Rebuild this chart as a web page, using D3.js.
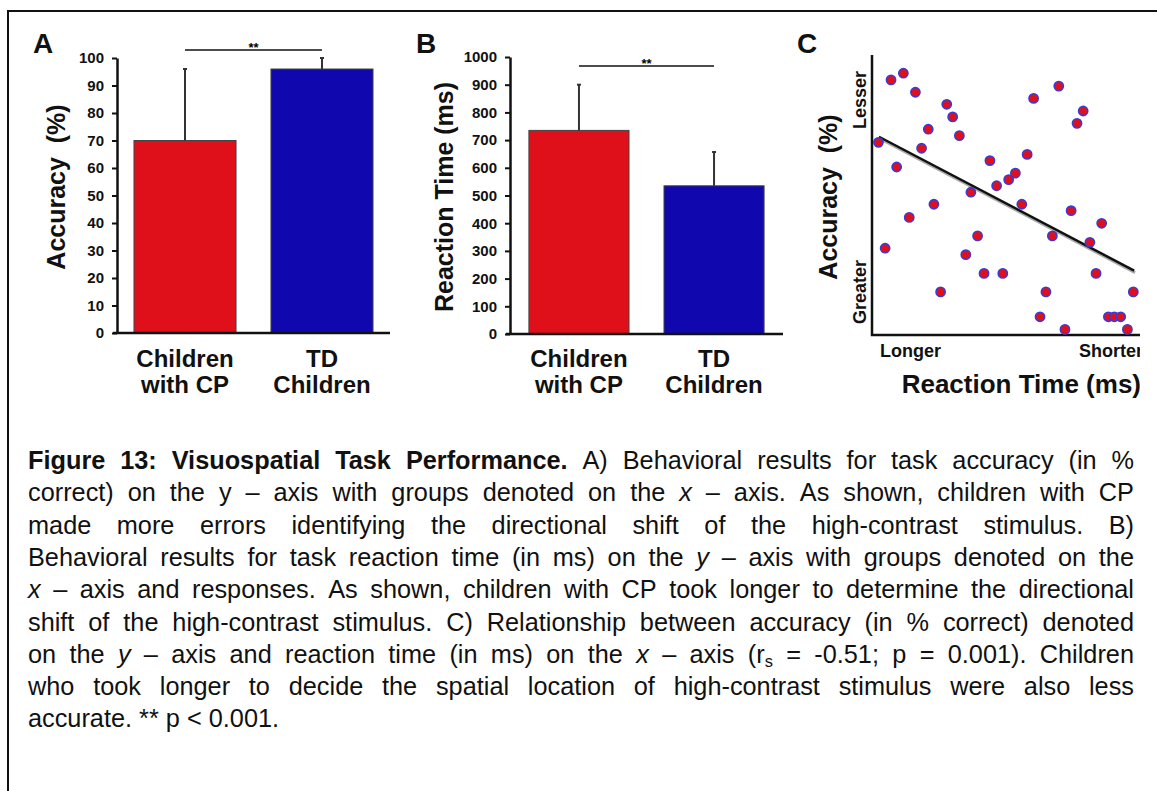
<!DOCTYPE html>
<html>
<head>
<meta charset="utf-8">
<script src="https://cdn.jsdelivr.net/npm/d3@7"></script>
<style>
  body { margin: 0; background: #fff; }
  svg { display: block; font-family: Arial, "Liberation Sans", sans-serif; }
</style>
</head>
<body>
<svg id="figura" width="1157" height="791"></svg>
<script>
// dados ------------------------------------------------
const grupos = ["Children with CP", "TD Children"];
const rotulosGrupo = [["Children", "with CP"], ["TD", "Children"]];
const cores = ["#e0101a", "#1008ae"];

const acuraciaMedia = [70, 96];
const acuraciaErro = [26, 4];
const acuraciaTicks = [0, 10, 20, 30, 40, 50, 60, 70, 80, 90, 100];

const tempoMedia = [735, 535];
const tempoErro = [165, 122];
const tempoTicks = [0, 100, 200, 300, 400, 500, 600, 700, 800, 900, 1000];

// painel C: posicoes relativas (0-100)
const dispX = [2.4, 7.1, 11.7, 16.2, 21.0, 18.5, 9.2, 4.9, 13.9, 23.1, 25.6, 27.9, 30.1, 32.6,
  36.9, 35.0, 39.4, 41.8, 48.8, 44.0, 46.5, 51.0, 53.5, 55.9, 57.9, 60.3, 69.7, 62.7, 64.9,
  67.3, 72.0, 74.3, 76.5, 78.8, 81.3, 83.6, 85.7, 88.2, 90.4, 92.8, 95.3, 97.5];
const dispY = [68.8, 91.1, 93.5, 86.7, 73.5, 66.7, 60.0, 31.0, 42.0, 46.7, 15.4, 82.4, 77.9, 71.2,
  51.0, 28.7, 35.4, 22.0, 22.0, 62.3, 53.3, 55.5, 57.8, 46.7, 64.5, 84.5, 88.9, 6.5, 15.4,
  35.4, 2.0, 44.4, 75.6, 80.0, 33.1, 22.0, 39.9, 6.5, 6.5, 6.5, 2.0, 15.4];
const tendenciaX = [2.6, 97.8];
const tendenciaY = [70.8, 23.0];

const legenda = [
  "b:Figure b:13: b:Visuospatial b:Task b:Performance. A) Behavioral results for task accuracy (in %",
  "correct) on the y – axis with groups denoted on the i:x – axis. As shown, children with CP",
  "made more errors identifying the directional shift of the high-contrast stimulus. B)",
  "Behavioral results for task reaction time (in ms) on the i:y – axis with groups denoted on the",
  "i:x – axis and responses. As shown, children with CP took longer to determine the directional",
  "shift of the high-contrast stimulus. C) Relationship between accuracy (in % correct) denoted",
  "on the i:y – axis and reaction time (in ms) on the i:x – axis (r_s = -0.51; p = 0.001). Children",
  "who took longer to decide the spatial location of high-contrast stimulus were also less",
  "accurate. ** p < 0.001."
];

const svg = d3.select("#figura");

// moldura (apenas topo e esquerda visiveis)
svg.append("path")
  .attr("d", "M8,791 V11 H1157")
  .attr("fill", "none").attr("stroke", "#111").attr("stroke-width", 2);

// grafico de barras generico ------------------------------------------------
function barras(cfg) {
  const g = svg.append("g");
  const x = d3.scaleBand().domain(grupos).range([cfg.x0, cfg.x1])
    .paddingInner(cfg.pIn).paddingOuter(cfg.pOut);
  const y = d3.scaleLinear().domain([0, cfg.max]).range([cfg.yBase, cfg.yTop]);

  // barras
  g.selectAll(".barra").data(cfg.media).join("rect")
    .attr("x", (d, i) => x(grupos[i]))
    .attr("y", d => y(d))
    .attr("width", x.bandwidth())
    .attr("height", d => cfg.yBase - y(d))
    .attr("fill", (d, i) => cores[i])
    .attr("stroke", "#444").attr("stroke-width", 1);

  // barras de erro
  g.selectAll(".erro").data(cfg.media).join("line")
    .attr("x1", (d, i) => x(grupos[i]) + x.bandwidth() / 2)
    .attr("x2", (d, i) => x(grupos[i]) + x.bandwidth() / 2)
    .attr("y1", d => y(d))
    .attr("y2", (d, i) => y(d + cfg.erro[i]))
    .attr("stroke", "#333").attr("stroke-width", 2);
  g.selectAll(".cap").data(cfg.media).join("line")
    .attr("x1", (d, i) => x(grupos[i]) + x.bandwidth() / 2 - 2)
    .attr("x2", (d, i) => x(grupos[i]) + x.bandwidth() / 2 + 2)
    .attr("y1", (d, i) => y(d + cfg.erro[i]))
    .attr("y2", (d, i) => y(d + cfg.erro[i]))
    .attr("stroke", "#333").attr("stroke-width", 2);

  // eixo Y
  const eixoY = g.append("g")
    .attr("transform", `translate(${cfg.x0},0)`)
    .call(d3.axisLeft(y).tickValues(cfg.ticks).tickFormat(d3.format("d"))
      .tickSize(5).tickPadding(8).tickSizeOuter(0));
  eixoY.select(".domain").attr("stroke", "#111").attr("stroke-width", 2.5);
  eixoY.selectAll(".tick line").attr("stroke", "#111").attr("stroke-width", 2);
  eixoY.selectAll("text").attr("font-size", 15).attr("font-weight", "bold")
    .attr("fill", "#111").attr("font-family", "Arial, 'Liberation Sans', sans-serif");

  // eixo X
  g.append("line")
    .attr("x1", cfg.x0 - 4).attr("x2", cfg.x1)
    .attr("y1", cfg.yBase).attr("y2", cfg.yBase)
    .attr("stroke", "#111").attr("stroke-width", 2.5);

  // rotulos das categorias
  grupos.forEach((gr, i) => {
    const t = g.append("text")
      .attr("x", x(gr) + x.bandwidth() / 2)
      .attr("text-anchor", "middle")
      .attr("font-size", 24).attr("font-weight", "bold").attr("fill", "#111");
    rotulosGrupo[i].forEach((l, j) => {
      t.append("tspan").attr("x", x(gr) + x.bandwidth() / 2)
        .attr("y", 367 + j * 26).text(l);
    });
  });

  // titulo do eixo Y
  g.append("text")
    .attr("transform", `translate(${cfg.tituloX},${cfg.tituloY}) rotate(-90)`)
    .attr("text-anchor", "middle")
    .attr("font-size", 25).attr("font-weight", "bold").attr("fill", "#111")
    .attr("xml:space", "preserve")
    .text(cfg.titulo);

  // significancia
  const c0 = x(grupos[0]) + x.bandwidth() / 2, c1 = x(grupos[1]) + x.bandwidth() / 2;
  g.append("line").attr("x1", c0).attr("x2", c1)
    .attr("y1", cfg.sigY).attr("y2", cfg.sigY)
    .attr("stroke", "#111").attr("stroke-width", 1.5);
  g.append("text").attr("x", (c0 + c1) / 2).attr("y", cfg.sigY + 2)
    .attr("text-anchor", "middle").attr("font-size", 13).attr("font-weight", "bold")
    .text("**");

  // letra do painel
  g.append("text").attr("x", cfg.letraX).attr("y", 53)
    .attr("font-size", 28).attr("font-weight", "bold").attr("fill", "#111")
    .text(cfg.letra);
}

barras({
  letra: "A", letraX: 33,
  x0: 117, x1: 390, pIn: 0.255, pOut: 0.124,
  yBase: 333, yTop: 58, max: 100,
  media: acuraciaMedia, erro: acuraciaErro, ticks: acuraciaTicks,
  titulo: "Accuracy  (%)", tituloX: 65, tituloY: 187, sigY: 50
});

barras({
  letra: "B", letraX: 416,
  x0: 510, x1: 783, pIn: 0.259, pOut: 0.14,
  yBase: 334, yTop: 57, max: 1000,
  media: tempoMedia, erro: tempoErro, ticks: tempoTicks,
  titulo: "Reaction Time (ms)", tituloX: 453, tituloY: 197, sigY: 66
});

// painel C: dispersao ------------------------------------------------
const gC = svg.append("g");
svg.append("clipPath").attr("id", "corteC")
  .append("rect").attr("x", 780).attr("y", 0).attr("width", 360).attr("height", 420);
const cx = d3.scaleLinear().domain([0, 100]).range([872, 1140]);
const cy = d3.scaleLinear().domain([0, 100]).range([335, 55]);

gC.append("path")
  .attr("d", `M${cx(0)},${cy(100)} V${cy(0)} H${cx(100)}`)
  .attr("fill", "none").attr("stroke", "#111").attr("stroke-width", 2.5);

const tendencia = d3.line().x(d => cx(d[0])).y(d => cy(d[1]));
const ptsT = d3.zip(tendenciaX, tendenciaY);
gC.append("path").attr("d", tendencia(ptsT))
  .attr("transform", "translate(1,2)")
  .attr("stroke", "#aaa").attr("stroke-width", 3).attr("fill", "none");
gC.append("path").attr("d", tendencia(ptsT))
  .attr("stroke", "#111").attr("stroke-width", 2.5).attr("fill", "none");

gC.selectAll(".ponto").data(d3.zip(dispX, dispY)).join("circle")
  .attr("cx", d => cx(d[0])).attr("cy", d => cy(d[1]))
  .attr("r", 4.6)
  .attr("fill", "#e0101a").attr("stroke", "#3a3ad8").attr("stroke-width", 1.6);

gC.append("text").attr("x", 797).attr("y", 53)
  .attr("font-size", 28).attr("font-weight", "bold").attr("fill", "#111").text("C");

gC.append("text")
  .attr("transform", "translate(866,100) rotate(-90)")
  .attr("text-anchor", "middle").attr("font-size", 18).attr("font-weight", "bold")
  .attr("fill", "#111").text("Lesser");
gC.append("text")
  .attr("transform", "translate(866,292) rotate(-90)")
  .attr("text-anchor", "middle").attr("font-size", 18).attr("font-weight", "bold")
  .attr("fill", "#111").text("Greater");
gC.append("text")
  .attr("transform", "translate(837,197) rotate(-90)")
  .attr("text-anchor", "middle").attr("font-size", 25).attr("font-weight", "bold")
  .attr("fill", "#111").attr("xml:space", "preserve").text("Accuracy  (%)");

const rotX = gC.append("g").attr("clip-path", "url(#corteC)");
rotX.append("text").attr("x", 880).attr("y", 357)
  .attr("font-size", 18).attr("font-weight", "bold").attr("fill", "#111").text("Longer");
rotX.append("text").attr("x", 1079).attr("y", 357)
  .attr("font-size", 18).attr("font-weight", "bold").attr("fill", "#111").text("Shorter");
rotX.append("text").attr("x", 1141).attr("y", 393).attr("text-anchor", "end")
  .attr("font-size", 26).attr("font-weight", "bold").attr("fill", "#111").text("Reaction Time (ms)");

// legenda justificada ------------------------------------------------
const tamL = 25.3;
const gL = svg.append("g").attr("font-size", tamL).attr("fill", "#111");
const esq = 28, dir = 1134, base0 = 469, passo = 32.3;

legenda.forEach((linha, k) => {
  const y = base0 + k * passo;
  const palavras = linha.split(" ");
  const nos = palavras.map(p => {
    const t = gL.append("text").attr("y", y);
    if (p.startsWith("b:")) {
      t.attr("font-weight", "bold").text(p.slice(2));
    } else if (p.startsWith("i:")) {
      t.attr("font-style", "italic").text(p.slice(2));
    } else if (p.includes("_")) {
      const [a, b] = p.split("_");
      t.append("tspan").text(a);
      t.append("tspan").attr("font-size", tamL * 0.65).attr("dy", 4).text(b);
    } else {
      t.text(p);
    }
    return t;
  });
  const larg = nos.map(n => n.node().getComputedTextLength());
  const ultima = k === legenda.length - 1;
  const espaco = ultima ? tamL * 0.278 : (dir - esq - d3.sum(larg)) / (nos.length - 1);
  let x = esq;
  nos.forEach((n, i) => { n.attr("x", x); x += larg[i] + espaco; });
});
</script>
</body>
</html>
